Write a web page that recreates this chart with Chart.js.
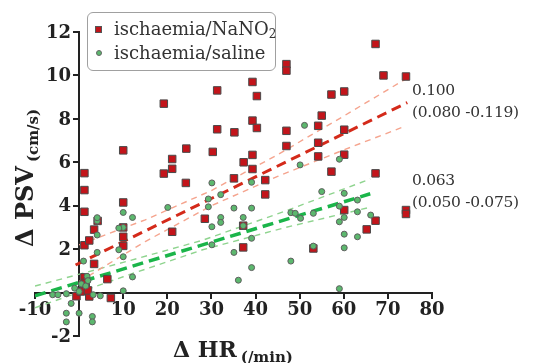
<!DOCTYPE html>
<html>
<head>
<meta charset="utf-8">
<script src="https://cdn.jsdelivr.net/npm/chart.js@4"></script>
<style>
  html, body { margin: 0; padding: 0; background: #fff; }
  #wrap { position: relative; width: 535px; height: 363px; }
  #legend {
    position: absolute; left: 87px; top: 12px; width: 187px; height: 57px;
    border: 1px solid #a0a0a0; border-radius: 6px; background: #fff;
    font-family: "DejaVu Serif", serif; font-size: 18px; color: #333;
  }
  #legend .item { position: absolute; left: 26px; height: 22px; line-height: 22px; white-space: nowrap; }
  #legend sub { font-size: 12px; vertical-align: -3px; line-height: 0; }
  #legend .sq, #legend .dot { position: absolute; left: -19px; top: 8px; }
  #legend .sq { width: 5px; height: 5px; background: #c0141a; border: 1px solid #555; }
  #legend .dot { width: 4px; height: 4px; border-radius: 50%; background: #5cb86e; border: 1px solid #666; left: -18px; }
  .note {
    position: absolute; left: 412px; font-family: "DejaVu Serif", serif; font-size: 15.5px;
    line-height: 22px; color: #333; white-space: nowrap; letter-spacing: -0.3px;
  }
</style>
</head>
<body>
<div id="wrap">
  <canvas id="chart" width="535" height="363"></canvas>
  <div id="legend">
    <div class="item" style="top:5px"><span class="sq"></span>ischaemia/NaNO<sub>2</sub></div>
    <div class="item" style="top:29px"><span class="dot"></span>ischaemia/saline</div>
  </div>
  <div class="note" style="top:79px">0.100<br>(0.080 -0.119)</div>
  <div class="note" style="top:169px">0.063<br>(0.050 -0.075)</div>
</div>
<script>
// tick labels
const xTicks = [-10, 0, 10, 20, 30, 40, 50, 60, 70, 80];
const yTicks = [-2, 0, 2, 4, 6, 8, 10, 12];

// ischaemia/NaNO2 (red squares): delta HR, delta PSV
const nitriteHR = [
  1.2, 1.2, 1.2, 1.2, 2.3, 3.4, 4.2, 3.4, 6.4, 1.2, 1.5, 1.2, -0.6, 2.3, 7.2, 0.4, 2.0,
  10, 10, 10, 10, 10,
  19.2, 19.2, 21.1, 21.1, 21.1, 24.3, 24.2, 28.5, 30.3, 31.3, 31.3, 35.2, 35.1, 37.3,
  39.3, 40.3, 39.3, 40.3, 39.3, 39.3, 37.2, 37.2, 42.2, 42.2,
  47, 47, 47, 47, 54.2, 54.2, 54.2, 55, 57.2, 57.2, 60.1, 60.1, 60.1, 60.1,
  67.2, 69, 74.1, 67.2, 67.2, 74.1, 74.1, 65.2, 53.1
];
const nitritePSV = [
  5.5, 4.72, 3.72, 2.18, 2.4, 2.9, 3.3, 1.32, 0.62, 0.7, 0.45, 0.23, -0.17, -0.18, -0.25, 0.05, 0.1,
  6.55, 4.15, 3.0, 2.57, 2.15,
  8.7, 5.48, 5.7, 6.15, 2.8, 6.63, 5.05, 3.4, 6.48, 9.31, 7.52, 7.38, 5.26, 6.0,
  9.7, 9.05, 7.92, 7.58, 6.34, 5.69, 3.08, 2.08, 5.18, 4.52,
  10.52, 10.22, 7.45, 6.75, 7.68, 6.9, 6.27, 8.15, 9.12, 5.57, 9.26, 7.5, 6.35, 3.8,
  11.45, 10.0, 9.95, 5.49, 3.31, 3.8, 3.62, 2.91, 2.03
];

// ischaemia/saline (green circles): delta HR, delta PSV
const salineHR = [
  -6.0, -4.8, -2.9, -1.8, -2.9, -2.9, 0, 3.0, 3.0, -1.0, 0.5, 1.8, 2.0, 4.8, 3.2, 1.0,
  4.1, 4.1, 4.1, 4.1, 0, 1.5,
  10, 10, 9, 12.1, 9, 10, 12.1, 10,
  20.1, 30.1, 32.1, 29.3, 29.3, 32.1, 32.1, 30.1, 30.1, 35.1, 37.2, 37.2, 39.1, 39.1, 39.1,
  35.1, 36.1, 39.1,
  51.1, 50.1, 59.0, 55.0, 60.1, 59.0, 63.1, 48.0, 49.0, 50.2, 53.1, 59.0, 60.1, 63.1, 66.1,
  60.1, 63.1, 60.1, 53.1, 48.0, 59.0
];
const salinePSV = [
  -0.1, -0.1, -0.05, -0.5, -0.95, -1.35, -0.95, -1.1, -1.35, 0.2, 0.4, 0.75, 0.55, -0.15, -0.1, 1.45,
  1.85, 2.65, 3.3, 3.45, 0.05, 0.3,
  3.69, 3.0, 2.97, 3.46, 1.97, 1.65, 0.72, 0.08,
  3.92, 5.05, 4.51, 4.31, 3.95, 3.46, 3.23, 3.03, 2.2, 3.89, 3.46, 3.08, 3.89, 2.5, 1.15,
  1.85, 0.57, 5.08,
  7.7, 5.88, 6.14, 4.65, 4.57, 3.98, 4.26, 3.68, 3.65, 3.42, 3.65, 3.26, 3.46, 3.72, 3.57,
  2.69, 2.57, 2.06, 2.14, 1.45, 0.18
];

// regression lines and 95% bands
const nitriteFitHR = [-0.8, 74.4];
const nitriteFitPSV = [1.27, 8.75];
const nitriteBandHR = [0, 15, 30, 45, 60, 74];
const nitriteUpper = [2.2, 3.35, 4.7, 6.35, 8.13, 9.83];
const nitriteLower = [0.5, 2.35, 4.0, 5.35, 6.57, 7.67];

const salineFitHR = [-10, 66];
const salineFitPSV = [-0.15, 4.55];
const salineBandHR = [-10, 10, 28, 47, 66];
const salineUpper = [0.3, 1.39, 2.41, 3.77, 5.23];
const salineLower = [-0.7, 0.73, 1.97, 3.01, 3.93];

const pts = (xs, ys) => xs.map((x, i) => ({ x: x, y: ys[i] }));

function lineSet(xs, ys, color, width, dash) {
    return {
        data: pts(xs, ys),
        showLine: true,
        borderColor: color,
        borderWidth: width,
        borderDash: dash,
        pointRadius: 0,
        fill: false
    };
}

// axis titles with the small unit part, and the y tick labels left of the centred axis
const axisText = {
    id: 'axisText',
    afterDraw(chart) {
        const ctx = chart.ctx;
        const xs = chart.scales.x, ys = chart.scales.y;
        ctx.save();
        ctx.fillStyle = '#222';

        ctx.font = 'bold 18px "DejaVu Serif"';
        ctx.textAlign = 'right';
        ctx.textBaseline = 'middle';
        const axisX = xs.getPixelForValue(0);
        yTicks.forEach(v => {
            if (v !== 0) ctx.fillText(String(v), axisX - 8, ys.getPixelForValue(v) + 1);
        });

        ctx.textAlign = 'left';
        ctx.textBaseline = 'alphabetic';
        ctx.font = 'bold 22px "DejaVu Serif"';
        ctx.fillText('Δ HR', 173, 357);
        let w = ctx.measureText('Δ HR').width;
        ctx.font = 'bold 15px "DejaVu Serif"';
        ctx.fillText('(/min)', 173 + w + 4, 362);

        ctx.translate(33, 247);
        ctx.rotate(-Math.PI / 2);
        ctx.font = 'bold 24px "DejaVu Serif"';
        ctx.fillText('Δ PSV', 0, 0);
        w = ctx.measureText('Δ PSV').width;
        ctx.font = 'bold 15px "DejaVu Serif"';
        ctx.fillText('(cm/s)', w + 4, 5);
        ctx.restore();
    }
};

const tickFont = { family: 'DejaVu Serif', size: 18, weight: 'bold' };

new Chart(document.getElementById('chart'), {
    type: 'scatter',
    data: {
        datasets: [
            {
                data: pts(salineHR, salinePSV),
                pointStyle: 'circle',
                pointRadius: 3,
                backgroundColor: '#5cb86e',
                borderColor: '#5e5e5e',
                borderWidth: 1
            },
            {
                data: pts(nitriteHR, nitritePSV),
                pointStyle: 'rect',
                pointRadius: 5.3,
                backgroundColor: '#c3141a',
                borderColor: '#4a4a4a',
                borderWidth: 1
            },
            lineSet(nitriteFitHR, nitriteFitPSV, '#d42a1a', 3, [10, 6]),
            lineSet(nitriteBandHR, nitriteUpper, '#f5a48e', 1.4, [6, 5]),
            lineSet(nitriteBandHR, nitriteLower, '#f5a48e', 1.4, [6, 5]),
            lineSet(salineFitHR, salineFitPSV, '#1bb54a', 3.5, [11, 6]),
            lineSet(salineBandHR, salineUpper, '#8fd48f', 1.4, [6, 5]),
            lineSet(salineBandHR, salineLower, '#8fd48f', 1.4, [6, 5])
        ]
    },
    options: {
        responsive: false,
        animation: false,
        layout: { padding: { left: 35, right: 103, top: 32, bottom: 27 } },
        plugins: { legend: { display: false }, tooltip: { enabled: false } },
        scales: {
            x: {
                type: 'linear',
                min: -10,
                max: 80,
                position: { y: 0 },
                afterBuildTicks: s => { s.ticks = xTicks.map(v => ({ value: v })); },
                grid: { drawOnChartArea: false, color: '#222', lineWidth: 2, tickLength: 5 },
                border: { color: '#222', width: 2 },
                ticks: {
                    color: '#222', font: tickFont, padding: 2, maxRotation: 0,
                    callback: v => (v === 0 ? '' : v)
                }
            },
            y: {
                type: 'linear',
                min: -2,
                max: 12,
                position: { x: 0 },
                afterBuildTicks: s => { s.ticks = yTicks.map(v => ({ value: v })); },
                grid: { drawOnChartArea: false, color: '#222', lineWidth: 2, tickLength: 5 },
                border: { color: '#222', width: 2 },
                ticks: { display: false }
            }
        }
    },
    plugins: [axisText]
});
</script>
</body>
</html>
